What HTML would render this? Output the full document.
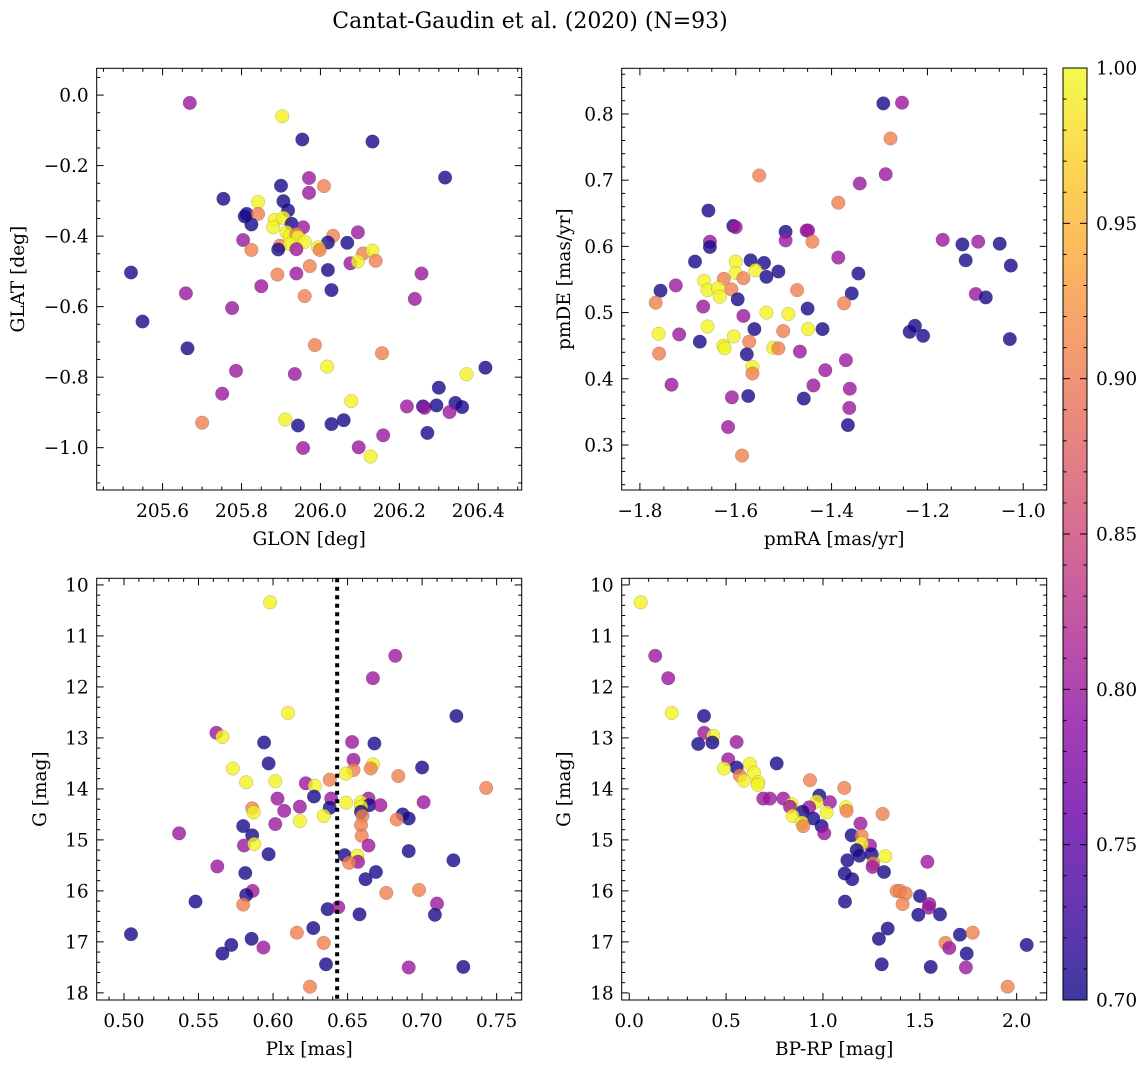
<!DOCTYPE html>
<html><head><meta charset="utf-8">
<style>
html,body{margin:0;padding:0;background:#fff;}
svg{display:block;font-family:"DejaVu Serif","Liberation Serif",serif;}
</style></head>
<body>
<svg id="fig" width="1148" height="1067" viewBox="0 0 1148 1067" xmlns="http://www.w3.org/2000/svg">
<defs>
<linearGradient id="plasma" x1="0" y1="1" x2="0" y2="0">
<stop offset="0" stop-color="#0d0887"/><stop offset="0.1" stop-color="#41049d"/><stop offset="0.2" stop-color="#6a00a8"/><stop offset="0.3" stop-color="#8f0da4"/><stop offset="0.4" stop-color="#b12a90"/><stop offset="0.5" stop-color="#cc4778"/><stop offset="0.6" stop-color="#e16462"/><stop offset="0.7" stop-color="#f2844b"/><stop offset="0.8" stop-color="#fca636"/><stop offset="0.9" stop-color="#fcce25"/><stop offset="1" stop-color="#f0f921"/>
</linearGradient>
</defs>
<text x="530" y="28" font-size="22" text-anchor="middle">Cantat-Gaudin et al. (2020) (N=93)</text>
</svg>
<script>
// ---------- Panel 1: GLON vs GLAT ----------
const p1x=[205.669,205.903,205.954,206.132,206.316,205.971,206.009,205.900,205.971,205.754,205.842,205.906,205.918,205.813,205.808,205.842,205.825,205.884,205.906,205.880,205.927,205.956,205.914,205.922,205.939,206.032,206.095,205.804,205.943,205.960,206.019,206.068,205.897,205.922,205.893,205.939,205.825,205.994,205.998,206.108,206.132,206.076,206.095,206.140,205.973,206.019,205.520,205.891,205.939,206.256,205.850,206.028,205.659,205.960,206.239,205.776,205.549,205.663,205.986,206.156,206.017,206.418,205.786,205.935,206.370,206.300,205.751,206.078,206.219,206.260,206.264,206.294,206.342,206.359,206.327,205.700,205.911,205.943,206.028,206.059,206.271,206.159,205.956,206.097,206.127];
const p1y=[-0.022,-0.060,-0.126,-0.132,-0.234,-0.235,-0.258,-0.257,-0.277,-0.294,-0.303,-0.301,-0.327,-0.337,-0.344,-0.337,-0.367,-0.354,-0.348,-0.375,-0.365,-0.375,-0.389,-0.399,-0.394,-0.399,-0.389,-0.411,-0.403,-0.416,-0.418,-0.419,-0.427,-0.422,-0.438,-0.437,-0.439,-0.432,-0.439,-0.449,-0.441,-0.477,-0.472,-0.470,-0.485,-0.496,-0.503,-0.509,-0.506,-0.506,-0.542,-0.553,-0.562,-0.570,-0.578,-0.604,-0.642,-0.718,-0.709,-0.732,-0.770,-0.773,-0.782,-0.791,-0.792,-0.830,-0.847,-0.868,-0.883,-0.883,-0.887,-0.880,-0.873,-0.885,-0.899,-0.929,-0.920,-0.937,-0.933,-0.922,-0.958,-0.965,-1.001,-0.999,-1.025];
const p1p=[0.80,0.995,0.705,0.705,0.705,0.80,0.905,0.705,0.80,0.705,0.995,0.705,0.705,0.705,0.705,0.905,0.705,0.995,0.995,0.995,0.705,0.80,0.995,0.995,0.905,0.905,0.80,0.80,0.995,0.995,0.705,0.705,0.905,0.995,0.705,0.80,0.905,0.995,0.905,0.905,0.995,0.80,0.995,0.905,0.905,0.705,0.705,0.905,0.80,0.80,0.80,0.705,0.80,0.905,0.80,0.80,0.705,0.705,0.905,0.905,0.995,0.705,0.80,0.80,0.995,0.705,0.80,0.995,0.80,0.705,0.80,0.705,0.705,0.705,0.80,0.905,0.995,0.705,0.705,0.705,0.705,0.80,0.80,0.80,0.995];
// ---------- Panel 2: pmRA vs pmDE ----------
const p2x=[-1.292,-1.253,-1.277,-1.551,-1.287,-1.341,-1.386,-1.657,-1.605,-1.600,-1.496,-1.452,-1.449,-1.496,-1.440,-1.654,-1.654,-1.168,-1.127,-1.094,-1.049,-1.386,-1.685,-1.600,-1.569,-1.541,-1.120,-1.559,-1.511,-1.600,-1.536,-1.026,-1.344,-1.625,-1.584,-1.666,-1.725,-1.757,-1.659,-1.637,-1.609,-1.633,-1.472,-1.358,-1.099,-1.078,-1.767,-1.596,-1.668,-1.374,-1.450,-1.536,-1.490,-1.584,-1.659,-1.561,-1.501,-1.449,-1.419,-1.226,-1.237,-1.209,-1.761,-1.718,-1.604,-1.675,-1.572,-1.626,-1.623,-1.522,-1.511,-1.466,-1.760,-1.577,-1.028,-1.370,-1.565,-1.565,-1.413,-1.734,-1.438,-1.362,-1.608,-1.574,-1.458,-1.363,-1.616,-1.366,-1.587];
const p2y=[0.816,0.817,0.763,0.707,0.709,0.695,0.666,0.654,0.631,0.629,0.622,0.624,0.624,0.609,0.607,0.607,0.599,0.610,0.603,0.607,0.604,0.583,0.577,0.577,0.579,0.575,0.579,0.564,0.562,0.560,0.554,0.571,0.559,0.551,0.552,0.548,0.541,0.533,0.534,0.537,0.535,0.524,0.534,0.529,0.528,0.523,0.515,0.520,0.509,0.514,0.506,0.500,0.498,0.495,0.479,0.475,0.472,0.475,0.475,0.480,0.471,0.465,0.468,0.467,0.464,0.456,0.456,0.450,0.446,0.447,0.446,0.441,0.438,0.437,0.460,0.428,0.418,0.408,0.413,0.391,0.390,0.385,0.372,0.374,0.370,0.356,0.327,0.330,0.284];
const p2p=[0.705,0.80,0.905,0.905,0.80,0.80,0.905,0.705,0.705,0.80,0.705,0.80,0.80,0.80,0.905,0.80,0.705,0.80,0.705,0.80,0.705,0.80,0.705,0.995,0.705,0.705,0.705,0.995,0.705,0.995,0.705,0.705,0.705,0.905,0.905,0.995,0.80,0.705,0.995,0.995,0.905,0.995,0.905,0.705,0.80,0.705,0.905,0.705,0.80,0.905,0.705,0.995,0.995,0.80,0.995,0.705,0.905,0.995,0.705,0.705,0.705,0.705,0.995,0.80,0.995,0.705,0.905,0.995,0.995,0.995,0.905,0.80,0.905,0.705,0.705,0.80,0.995,0.905,0.80,0.80,0.80,0.80,0.80,0.705,0.705,0.80,0.80,0.705,0.905];
// ---------- Panel 3: Plx vs G ----------
const p3x=[0.598,0.682,0.667,0.610,0.723,0.562,0.566,0.594,0.653,0.668,0.597,0.654,0.667,0.6655,0.573,0.654,0.649,0.700,0.684,0.582,0.6015,0.638,0.622,0.628,0.743,0.6275,0.603,0.639,0.664,0.659,0.649,0.701,0.586,0.618,0.638,0.6646,0.672,0.659,0.6075,0.587,0.659,0.660,0.634,0.687,0.691,0.683,0.618,0.6015,0.580,0.659,0.537,0.586,0.6595,0.5805,0.5874,0.664,0.597,0.691,0.648,0.6565,0.657,0.651,0.721,0.5626,0.5814,0.669,0.662,0.676,0.698,0.5863,0.582,0.548,0.580,0.710,0.6366,0.6438,0.658,0.7086,0.5047,0.616,0.627,0.5856,0.572,0.634,0.5935,0.566,0.6355,0.691,0.7276,0.6248];
const p3y=[10.34,11.39,11.83,12.51,12.57,12.90,12.98,13.09,13.08,13.11,13.50,13.43,13.52,13.60,13.60,13.63,13.70,13.58,13.75,13.87,13.85,13.82,13.89,13.94,13.98,14.15,14.19,14.19,14.19,14.26,14.27,14.26,14.38,14.35,14.37,14.32,14.32,14.35,14.43,14.46,14.45,14.53,14.53,14.50,14.58,14.60,14.63,14.69,14.73,14.71,14.87,14.91,14.92,15.11,15.08,15.11,15.28,15.22,15.30,15.31,15.43,15.45,15.40,15.52,15.65,15.63,15.77,16.04,15.98,16.00,16.08,16.21,16.27,16.25,16.36,16.32,16.46,16.47,16.85,16.82,16.73,16.94,17.06,17.02,17.11,17.23,17.44,17.50,17.49,17.88];
const p3p=[0.995,0.80,0.80,0.995,0.705,0.80,0.995,0.705,0.80,0.705,0.705,0.80,0.995,0.905,0.995,0.905,0.995,0.705,0.905,0.995,0.995,0.905,0.80,0.995,0.905,0.705,0.80,0.80,0.80,0.995,0.995,0.80,0.905,0.80,0.705,0.705,0.80,0.995,0.80,0.995,0.705,0.905,0.995,0.705,0.705,0.905,0.995,0.80,0.705,0.905,0.80,0.705,0.905,0.80,0.995,0.80,0.705,0.705,0.705,0.995,0.80,0.905,0.705,0.80,0.705,0.705,0.705,0.905,0.905,0.80,0.705,0.705,0.905,0.80,0.705,0.80,0.705,0.705,0.705,0.905,0.705,0.705,0.705,0.905,0.80,0.705,0.705,0.80,0.705,0.905];
const plxRef=0.643;
// ---------- Panel 4: BP-RP vs G ----------
const p4x=[0.059,0.134,0.201,0.219,0.386,0.387,0.434,0.356,0.429,0.554,0.511,0.554,0.489,0.623,0.761,0.571,0.644,0.592,0.666,0.663,0.933,1.110,0.692,0.726,0.795,0.981,1.036,0.967,0.838,0.830,0.929,0.895,1.019,1.119,1.122,1.308,0.843,0.950,0.890,0.898,0.993,1.194,1.007,1.148,1.200,1.243,1.200,1.174,1.188,1.251,1.322,1.126,1.539,1.260,1.256,1.315,1.112,1.151,1.380,1.398,1.427,1.411,1.501,1.549,1.546,1.492,1.604,1.114,1.334,1.289,1.707,1.773,1.632,1.652,1.742,1.303,1.556,1.738,2.052,1.953];
const p4y=[10.34,11.39,11.83,12.51,12.57,12.90,12.96,13.12,13.09,13.08,13.42,13.58,13.60,13.51,13.50,13.74,13.68,13.84,13.87,13.92,13.83,13.98,14.19,14.19,14.19,14.13,14.26,14.25,14.30,14.35,14.36,14.45,14.46,14.36,14.43,14.49,14.53,14.58,14.66,14.73,14.73,14.68,14.87,14.91,14.92,15.11,15.07,15.20,15.31,15.28,15.32,15.40,15.43,15.46,15.53,15.63,15.66,15.77,16.00,16.00,16.05,16.26,16.10,16.26,16.33,16.47,16.46,16.21,16.74,16.94,16.86,16.82,17.02,17.12,17.23,17.44,17.49,17.50,17.06,17.88];
const p4p=[0.995,0.80,0.80,0.995,0.705,0.80,0.995,0.705,0.705,0.80,0.80,0.705,0.995,0.995,0.705,0.905,0.995,0.995,0.995,0.995,0.905,0.905,0.80,0.80,0.80,0.705,0.80,0.995,0.995,0.80,0.80,0.705,0.995,0.995,0.905,0.905,0.995,0.705,0.995,0.905,0.705,0.80,0.80,0.705,0.905,0.80,0.995,0.705,0.705,0.705,0.995,0.705,0.80,0.905,0.80,0.705,0.705,0.705,0.905,0.905,0.905,0.905,0.705,0.80,0.80,0.705,0.705,0.705,0.705,0.705,0.705,0.905,0.905,0.80,0.705,0.705,0.705,0.80,0.705,0.905];
// ---------- Colorbar ----------
const cbTicks=[0.70,0.75,0.80,0.85,0.90,0.95,1.00];

const NS='http://www.w3.org/2000/svg';
const svg=document.getElementById('fig');
const FS=18.5;
const stops=[[13,8,135],[65,4,157],[106,0,168],[143,13,164],[177,42,144],[204,71,120],[225,100,98],[242,132,75],[252,166,54],[252,206,37],[240,249,33]];
function plasma(v){let t=(v-0.7)/0.3;t=Math.max(0,Math.min(1,t));const f=t*10,i=Math.min(9,Math.floor(f)),r=f-i;const a=stops[i],b=stops[i+1];return 'rgb('+[0,1,2].map(k=>Math.round(a[k]+(b[k]-a[k])*r)).join(',')+')';}
function mk(tag,attrs,parent){const e=document.createElementNS(NS,tag);for(const k in attrs)e.setAttribute(k,attrs[k]);(parent||svg).appendChild(e);return e;}
const fmtMinus=s=>s.replace('-','\u2212');

function panel(o){
  const g=mk('g',{});
  
  
  const L=o.box[0],T=o.box[1],R=o.box[2],B=o.box[3];
  const sx=v=>L+(v-o.xd[0])/(o.xd[1]-o.xd[0])*(R-L);
  const sy=o.inv?(v=>T+(v-o.yd[0])/(o.yd[1]-o.yd[0])*(B-T)):(v=>B-(v-o.yd[0])/(o.yd[1]-o.yd[0])*(B-T));
  const pg=mk('g',{},g);
  
  
  for(let i=0;i<o.x.length;i++){
    const c=mk('circle',{cx:sx(o.x[i]).toFixed(1),cy:sy(o.y[i]).toFixed(1),r:6.8,fill:plasma(o.p[i]),'fill-opacity':0.8,stroke:'rgba(60,60,60,0.35)','stroke-width':0.5},pg);
    
    
  }
  if(o.vline!==undefined){
    const vl=mk('line',{x1:sx(o.vline),x2:sx(o.vline),y1:T,y2:B,stroke:'#000','stroke-width':4,'stroke-dasharray':'4,4.5'},g);
    
    
  }
  const fr=mk('rect',{x:L,y:T,width:R-L,height:B-T,fill:'none',stroke:'#000','stroke-width':1},g);
  
  
  const tg=mk('g',{stroke:'#000','stroke-width':1},g);
  const eps=1e-9;
  for(let v=Math.ceil(o.xd[0]/o.xmin-eps)*o.xmin;v<=o.xd[1]+eps;v+=o.xmin){
    const major=Math.abs(v/o.xmaj-Math.round(v/o.xmaj))<1e-6;const len=major?7:3.5;const X=sx(v);
    mk('line',{x1:X,x2:X,y1:B,y2:B-len},tg);mk('line',{x1:X,x2:X,y1:T,y2:T+len},tg);
  }
  for(let v=Math.ceil(Math.min(o.yd[0],o.yd[1])/o.ymin-eps)*o.ymin;v<=Math.max(o.yd[0],o.yd[1])+eps;v+=o.ymin){
    const major=Math.abs(v/o.ymaj-Math.round(v/o.ymaj))<1e-6;const len=major?7:3.5;const Y=sy(v);
    mk('line',{x1:L,x2:L+len,y1:Y,y2:Y},tg);mk('line',{x1:R,x2:R-len,y1:Y,y2:Y},tg);
  }
  o.xt.forEach(v=>{const t=mk('text',{x:sx(v),y:B+27,'font-size':FS,'text-anchor':'middle'},g);t.textContent=fmtMinus(v.toFixed(o.xdec));
    });
  o.yt.forEach(v=>{const t=mk('text',{x:L-8,y:sy(v)+6.5,'font-size':FS,'text-anchor':'end'},g);t.textContent=fmtMinus(v.toFixed(o.ydec));
    });
  const xl=mk('text',{x:(L+R)/2,y:B+55,'font-size':FS,'text-anchor':'middle'},g);xl.textContent=o.xlab;
  
  const yx=o.ylx,yy=(T+B)/2;
  const yl=mk('text',{x:yx,y:yy,'font-size':FS,'text-anchor':'middle',transform:'rotate(-90 '+yx+' '+yy+')'},g);yl.textContent=o.ylab;
  
}
const r=(a,b,s)=>{const o=[];for(let v=a;v<=b+1e-9;v+=s)o.push(+v.toFixed(6));return o;};
panel({name:'glon-glat-panel',box:[96.7,68.3,521.7,490],xd:[205.433,206.51],yd:[-1.12,0.076],x:p1x,y:p1y,p:p1p,xt:r(205.6,206.4,0.2),yt:r(-1.0,0,0.2),xdec:1,ydec:1,xmaj:0.2,xmin:0.05,ymaj:0.2,ymin:0.05,xlab:'GLON [deg]',ylab:'GLAT [deg]',ylx:24});
panel({name:'pm-panel',box:[621.7,68.3,1046.7,490],xd:[-1.838,-0.951],yd:[0.232,0.869],x:p2x,y:p2y,p:p2p,xt:r(-1.8,-1.0,0.2),yt:r(0.3,0.8,0.1),xdec:1,ydec:1,xmaj:0.2,xmin:0.05,ymaj:0.1,ymin:0.02,xlab:'pmRA [mas/yr]',ylab:'pmDE [mas/yr]',ylx:570});
panel({name:'plx-g-panel',box:[96.7,578.3,521.7,1000],xd:[0.4817,0.7668],yd:[9.87,18.14],inv:true,x:p3x,y:p3y,p:p3p,xt:r(0.5,0.75,0.05),yt:r(10,18,1),xdec:2,ydec:0,xmaj:0.05,xmin:0.01,ymaj:1,ymin:0.2,xlab:'Plx [mas]',ylab:'G [mag]',ylx:46,vline:plxRef});
panel({name:'cmd-panel',box:[621.7,578.3,1046.7,1000],xd:[-0.039,2.155],yd:[9.87,18.14],inv:true,x:p4x,y:p4y,p:p4p,xt:r(0,2,0.5),yt:r(10,18,1),xdec:1,ydec:0,xmaj:0.5,xmin:0.1,ymaj:1,ymin:0.2,xlab:'BP-RP [mag]',ylab:'G [mag]',ylx:570});

const cb=mk('g',{});


const cL=1063,cR=1087,cT=68,cB=1000;
const cy=v=>cB-(v-0.7)/0.3*(cB-cT);
mk('rect',{x:cL,y:cT,width:cR-cL,height:cB-cT,fill:'url(#plasma)','fill-opacity':0.8},cb);
mk('rect',{x:cL,y:cT,width:cR-cL,height:cB-cT,fill:'none',stroke:'#000','stroke-width':1},cb);
for(let k=0;k<=30;k++){const v=0.7+k*0.01;const major=k%5===0;const Y=cy(v);
  mk('line',{x1:cR,x2:cR-(major?7:3.5),y1:Y,y2:Y,stroke:'#000','stroke-width':1},cb);
  mk('line',{x1:cL,x2:cL+(major?7:3.5),y1:Y,y2:Y,stroke:'#000','stroke-width':1},cb);}
cbTicks.forEach(v=>{const t=mk('text',{x:cR+9,y:cy(v)+6.5,'font-size':FS},cb);t.textContent=v.toFixed(2);
  });
</script>
</body></html>
